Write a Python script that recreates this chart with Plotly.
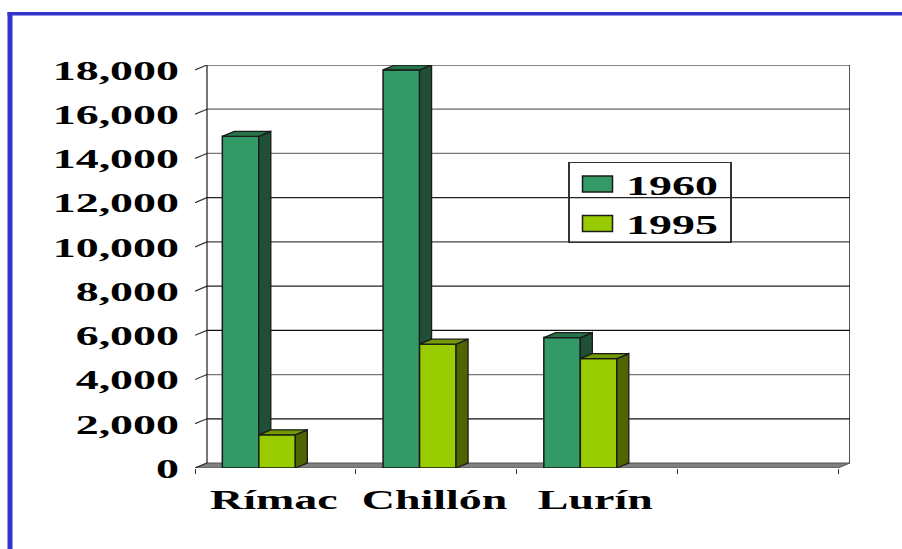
import plotly.graph_objects as go

categories = ["Rímac", "Chillón", "Lurín", ""]
series_names = ["1960", "1995"]
values_1960 = [15000, 18000, 5900]
values_1995 = [1500, 5600, 4950]
y_ticks = list(range(0, 18001, 2000))

# Figure geometry
W, H = 902, 549
LEFT, RIGHT, TOP, FRONT = 195, 850, 64.5, 468
CAT_PX = 160.75
PX_PER_UNIT = 0.02214
DX = 12 / CAT_PX            # oblique depth, category units
DY = 5 / PX_PER_UNIT        # oblique depth, value units
XMAX = (RIGHT - LEFT) / CAT_PX
YMAX = (FRONT - TOP) / PX_PER_UNIT
BAR_W = 36.5 / CAT_PX
GROUP_CENTRE = 0.397
LABEL_CENTRE = 0.49

INK = "#1a1a1a"
FRONT_COL = ["#339966", "#99CC00"]
TOP_COL = ["#267349", "#729900"]
SIDE_COL = ["#1F4F36", "#4F6600"]
GRID_COL = ["#111111", "#777777", "#111111", "#222222", "#444444",
            "#222222", "#777777", "#666666", "#111111"]
FONT = "Liberation Serif"
FONT_SIZE = 28
STRETCH = 1.64
LEGEND_TOP = 159
LEGEND_LEFT = 569

fig = go.Figure()
shapes = []

def line(x0, y0, x1, y1, color=INK, width=1.2, layer="below"):
    shapes.append(dict(type="line", xref="x", yref="y", x0=x0, y0=y0, x1=x1, y1=y1,
                       line=dict(color=color, width=width), layer=layer))

# floor
shapes.append(dict(type="path", xref="x", yref="y", layer="below",
                   path=f"M0,0 L{DX},{DY} L{XMAX},{DY} L{XMAX-DX},0 Z",
                   fillcolor="#808080", line=dict(color="#555555", width=1)))
# walls and gridlines
for v, col in zip(y_ticks[1:], GRID_COL):
    line(DX, v + DY, XMAX, v + DY, color=col)
for v in y_ticks:
    line(0, v, DX, v + DY, color="#333333")
line(DX, DY, DX, y_ticks[-1] + DY)
line(XMAX, DY, XMAX, y_ticks[-1] + DY, width=1.5)

# bars
positions = [[i + GROUP_CENTRE + s * BAR_W / 2 for i in range(len(values_1960))] for s in (-1, 1)]
for k, (name, vals) in enumerate(zip(series_names, [values_1960, values_1995])):
    fig.add_trace(go.Bar(x=positions[k], y=vals, width=BAR_W, name=name,
                         marker=dict(color=FRONT_COL[k], line=dict(color=INK, width=1.5))))

def poly(xs, ys, color):
    fig.add_trace(go.Scatter(x=xs + xs[:1], y=ys + ys[:1], mode="lines", fill="toself",
                             fillcolor=color, line=dict(color=INK, width=1.3),
                             showlegend=False, hoverinfo="skip"))

for k, vals in enumerate([values_1960, values_1995]):
    for i, v in enumerate(vals):
        r = positions[k][i] + BAR_W / 2
        l = positions[k][i] - BAR_W / 2
        # a 1960 side face is hidden below the top of the 1995 bar beside it
        base = values_1995[i] if k == 0 else 0
        poly([r, r + DX, r + DX, r], [base, base + DY, v + DY, v], SIDE_COL[k])
        poly([l, l + DX, r + DX, r], [v, v + DY, v + DY, v], TOP_COL[k])

# blue frame
for x0, y0, x1, y1 in [(7.5, 11.5, W, 15), (7.5, 11.5, 12.5, H)]:
    shapes.append(dict(type="rect", xref="paper", yref="paper", layer="below",
                       x0=(x0 - LEFT) / (RIGHT - LEFT), x1=(x1 - LEFT) / (RIGHT - LEFT),
                       y0=(FRONT - y1) / (FRONT - TOP), y1=(FRONT - y0) / (FRONT - TOP),
                       fillcolor="#3333CC", line=dict(width=0)))

tick_font = dict(family=FONT, size=FONT_SIZE, weight="bold", color="#000000")
fig.update_layout(
    width=W, height=H, autosize=False, paper_bgcolor="white", plot_bgcolor="white",
    margin=dict(l=LEFT, r=W - RIGHT, t=TOP, b=H - FRONT, pad=0),
    barmode="overlay", shapes=shapes, showlegend=True,
    font=dict(family=FONT, color="#000000"),
    legend=dict(x=(LEGEND_LEFT - LEFT) / (RIGHT - LEFT), y=(FRONT - LEGEND_TOP) / (FRONT - TOP),
                xanchor="left", yanchor="top", bgcolor="rgba(0,0,0,0)",
                borderwidth=0, font=tick_font, itemwidth=47, tracegroupgap=0),
    xaxis=dict(range=[0, XMAX], showgrid=False, zeroline=False, showline=False,
               tickmode="array", tickvals=[i + LABEL_CENTRE for i in range(len(categories))],
               ticktext=categories, ticks="", ticklabelstandoff=12,
               tickfont=tick_font,
               minor=dict(tickmode="array", tickvals=list(range(len(categories) + 1)),
                          ticks="outside", ticklen=5, tickcolor="#333333", tickwidth=1.2,
                          showgrid=False)),
    yaxis=dict(range=[0, YMAX], showgrid=False, zeroline=False, showline=False,
               tickmode="array", tickvals=y_ticks, tickformat=",", ticks="",
               ticklabelstandoff=15, tickfont=tick_font),
)

post = """
document.body.style.margin='0';document.documentElement.style.overflow='hidden';
(function(){
  function widen(){
    document.querySelectorAll('.xtick text,.ytick text,.legendtext').forEach(function(t){
      if(t.getAttribute('textLength')) return;
      var n=t.getComputedTextLength(); if(!n) return;
      t.setAttribute('textLength',n*%s); t.setAttribute('lengthAdjust','spacingAndGlyphs');
    });
    document.querySelectorAll('.legendpoints path').forEach(function(p){
      p.setAttribute('d','M15,8H-15V-8H15Z');
    });
    var bg=document.querySelector('.legend .bg');
    if(bg){
      bg.setAttribute('x',0); bg.setAttribute('y',3);
      bg.setAttribute('width',162); bg.setAttribute('height',80);
      bg.style.fill='#ffffff'; bg.style.stroke='#333333'; bg.style.strokeWidth='1.5px';
    }
    document.querySelectorAll('.legend clipPath rect, [id^=legend] rect').forEach(function(r){
      r.setAttribute('width',162); r.setAttribute('height',100);
    });
  }
  widen(); setTimeout(widen,0); setTimeout(widen,200);
  var gd=document.getElementById('{plot_id}');
  if(gd&&gd.on) gd.on('plotly_afterplot',widen);
})();
""" % STRETCH

fig.write_html("out.html", post_script=post, config=dict(displayModeBar=False))
